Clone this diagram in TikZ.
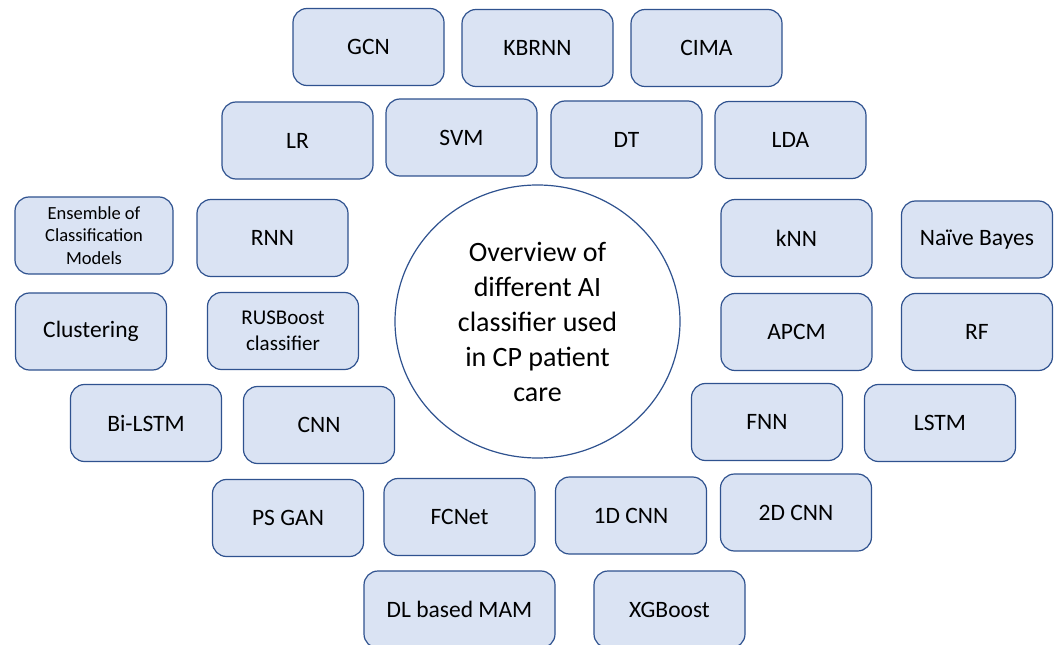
\documentclass[tikz,border=0pt]{standalone}
\usepackage{fontspec}
\setmainfont{Carlito}
\usetikzlibrary{shapes.geometric}
\definecolor{boxfill}{HTML}{DAE3F3}
\definecolor{boxline}{HTML}{2F528F}
\tikzset{
  method/.style={draw=boxline, fill=boxfill, line width=1.2bp, rounded corners=14bp,
    minimum width=151bp, minimum height=77bp, inner sep=0pt, align=center,
    font=\fontsize{23.5bp}{28bp}\selectfont},
  hub/.style={draw=boxline, fill=white, line width=1.2bp, ellipse, inner sep=0pt,
    minimum width=285bp, minimum height=273bp, align=center,
    font=\fontsize{28bp}{35bp}\selectfont}
}
\begin{document}
\begin{tikzpicture}[x=1bp,y=-1bp]
\useasboundingbox (0,0) rectangle (1059,645);
\begin{scope}
\clip (0,0) rectangle (1059,645);
% central topic
\node[hub] (hub) at (537.5,321.5) {Overview of\\different AI\\classifier used\\in CP patient\\care};
% top rows
\node[method] (gcn)   at (368.5,47)   {GCN};
\node[method] (kbrnn) at (537.5,48)   {KBRNN};
\node[method] (cima)  at (706.5,48)   {CIMA};
\node[method] (lr)    at (297.5,140.5){LR};
\node[method] (svm)   at (461.5,137.5){SVM};
\node[method] (dt)    at (626.5,139.5){DT};
\node[method] (lda)   at (790.5,140)  {LDA};
% left side
\node[method, minimum width=158bp, font=\fontsize{18.5bp}{22.5bp}\selectfont]
      (ens)   at (94,235.5)   {Ensemble of\\Classification\\Models};
\node[method] (rnn)   at (272.5,238)  {RNN};
\node[method] (clust) at (91,331.5)   {Clustering};
\node[method, font=\fontsize{21bp}{26bp}\selectfont]
      (rus)   at (283,331)    {RUSBoost\\classifier};
\node[method] (bilstm) at (146,423)   {Bi-LSTM};
\node[method] (cnn)   at (319,425)    {CNN};
% right side
\node[method] (knn)   at (796.5,238)  {kNN};
\node[method] (nb)    at (977,239.5)  {Naïve Bayes};
\node[method] (apcm)  at (796.5,332)  {APCM};
\node[method] (rf)    at (977,332)    {RF};
\node[method] (fnn)   at (767,422)    {FNN};
\node[method] (lstm)  at (940,423)    {LSTM};
% bottom rows
\node[method] (psgan) at (288,518)    {PS GAN};
\node[method] (fcnet) at (459.5,517)  {FCNet};
\node[method] (cnn1d) at (631,515.5)  {1D CNN};
\node[method] (cnn2d) at (796,512.5)  {2D CNN};
\node[method, minimum width=191bp] (mam) at (459.5,609.5) {DL based MAM};
\node[method] (xgb)   at (669.5,609.5){XGBoost};
\end{scope}
\end{tikzpicture}
\end{document}
